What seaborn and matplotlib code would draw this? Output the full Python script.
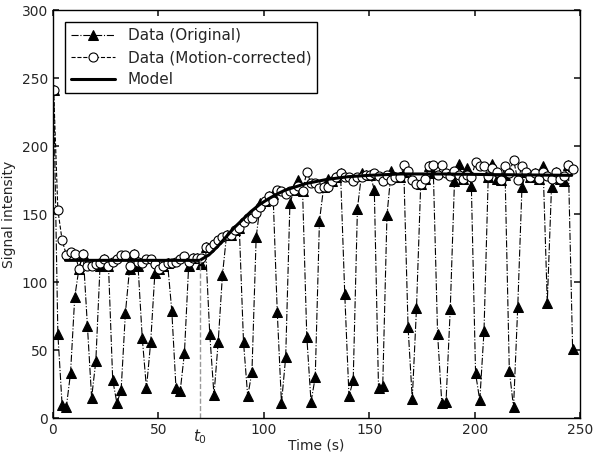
import numpy as np
import pandas as pd
import seaborn as sns
from matplotlib import pyplot as plt
from matplotlib import transforms

sns.set_theme(style="ticks")
plt.rcParams['font.family'] = ['DejaVu Sans']
plt.rcParams.update({
    'xtick.direction': 'in', 'ytick.direction': 'in',
    'xtick.top': True, 'ytick.right': True,
    'xtick.major.size': 4, 'ytick.major.size': 4,
    'axes.edgecolor': 'black', 'axes.linewidth': 1.0,
    'xtick.labelsize': 10, 'ytick.labelsize': 10,
    'axes.labelsize': 10,
})

# acquisition times (s)
time = [0.4, 2.4, 4.4, 6.4, 8.4, 10.4, 12.4, 14.4, 16.4, 18.4,
        20.4, 22.4, 24.4, 26.4, 28.4, 30.4, 32.4, 34.4, 36.4, 38.4,
        40.4, 42.4, 44.4, 46.4, 48.4, 50.4, 52.4, 54.4, 56.4, 58.4,
        60.4, 62.4, 64.4, 66.4, 68.4, 70.4, 72.4, 74.4, 76.4, 78.4,
        80.4, 82.4, 84.4, 86.4, 88.4, 90.4, 92.4, 94.4, 96.4, 98.4,
        100.4, 102.4, 104.4, 106.4, 108.4, 110.4, 112.4, 114.4, 116.4, 118.4,
        120.4, 122.4, 124.4, 126.4, 128.4, 130.4, 132.4, 134.4, 136.4, 138.4,
        140.4, 142.4, 144.4, 146.4, 148.4, 150.4, 152.4, 154.4, 156.4, 158.4,
        160.4, 162.4, 164.4, 166.4, 168.4, 170.4, 172.4, 174.4, 176.4, 178.4,
        180.4, 182.4, 184.4, 186.4, 188.4, 190.4, 192.4, 194.4, 196.4, 198.4,
        200.4, 202.4, 204.4, 206.4, 208.4, 210.4, 212.4, 214.4, 216.4, 218.4,
        220.4, 222.4, 224.4, 226.4, 228.4, 230.4, 232.4, 234.4, 236.4, 238.4,
        240.4, 242.4, 244.4, 246.4]

corrected = [241, 153, 131, 120, 122, 121, 110, 121, 112, 112,
             113, 114, 117, 112, 115, 117, 120, 120, 112, 121,
             115, 114, 117, 117, 113, 110, 112, 114, 114, 115,
             117, 119, 115, 118, 118, 118, 126, 125, 128, 131,
             133, 135, 135, 138, 140, 144, 147, 147, 151, 155,
             160, 163, 160, 168, 167, 165, 167, 168, 171, 167,
             181, 173, 173, 169, 170, 170, 174, 177, 180, 177,
             177, 174, 177, 177, 179, 179, 180, 178, 174, 179,
             175, 177, 177, 186, 182, 175, 172, 172, 176, 185,
             186, 179, 186, 180, 178, 182, 179, 176, 179, 177,
             188, 185, 185, 178, 184, 181, 175, 185, 180, 190,
             175, 185, 181, 177, 180, 176, 181, 178, 176, 181,
             176, 178, 186, 183]

original = [241, 62, 10, 8, 33, 89, 110, 121, 68, 15,
            42, 112, 117, 112, 28, 11, 21, 77, 110, 121,
            112, 59, 22, 56, 107, 110, 112, 114, 79, 22,
            20, 48, 112, 118, 118, 113, 126, 62, 17, 56,
            105, 135, 135, 138, 140, 56, 16, 34, 133, 158,
            160, 163, 165, 78, 11, 45, 158, 168, 175, 167,
            60, 12, 30, 145, 170, 176, 174, 177, 180, 91,
            16, 28, 154, 180, 179, 179, 168, 22, 24, 149,
            182, 177, 177, 181, 67, 14, 81, 172, 176, 185,
            180, 62, 11, 12, 80, 174, 187, 176, 184, 171,
            33, 13, 64, 177, 187, 176, 175, 179, 35, 8,
            82, 170, 181, 177, 180, 176, 185, 85, 170, 181,
            176, 174, 186, 51]

# fitted model
model_t = [6, 69.7, 74, 78, 82, 86, 90, 94, 98, 102, 106, 110, 115,
           120, 130, 140, 150, 165, 185, 210, 246]
model_v = [116, 116, 120, 126, 133, 140, 146, 152, 157, 161, 164.5, 167.5, 170,
           172.5, 175.5, 177.5, 178.5, 179.5, 179.5, 179, 178.5]

t0 = 69.7
baseline = 116

df = pd.DataFrame({'Time': time, 'Original': original, 'Corrected': corrected})
model_df = pd.DataFrame({'Time': model_t, 'Model': model_v})

fig = plt.figure(figsize=(6, 4.57), dpi=100)
ax = fig.add_axes([0.088, 0.085, 0.879, 0.893])

sns.lineplot(data=df, x='Time', y='Original', ax=ax, color='black', linestyle='-.',
             linewidth=0.8, marker='^', markersize=6.5, markerfacecolor='black',
             markeredgecolor='black', label='Data (Original)')
sns.lineplot(data=df, x='Time', y='Corrected', ax=ax, color='black', linestyle='--',
             linewidth=0.8, marker='o', markersize=6.5, markerfacecolor='white',
             markeredgecolor='black', markeredgewidth=0.8,
             label='Data (Motion-corrected)')
sns.lineplot(data=model_df, x='Time', y='Model', ax=ax, color='black', linewidth=2.2,
             label='Model')

ax.vlines(t0, 0, baseline, colors='#999999', linestyles='--', linewidth=1)

ax.set_xlim(0, 250)
ax.set_ylim(0, 300)
ax.set_xticks([0, 50, 100, 150, 200, 250])
ax.set_yticks([0, 50, 100, 150, 200, 250, 300])
ax.set_xlabel('Time (s)', labelpad=1)
ax.set_ylabel('Signal intensity')

trans = transforms.blended_transform_factory(ax.transData, ax.transAxes)
ax.text(t0, -0.022, r'$t_0$', transform=trans, ha='center', va='top', fontsize=11)

ax.legend(loc='upper left', fontsize=11, frameon=True, fancybox=False,
          edgecolor='black', framealpha=1, handlelength=2.9, borderaxespad=0.8,
          labelspacing=0.45)

plt.savefig('out.png', dpi=100)
plt.close()
